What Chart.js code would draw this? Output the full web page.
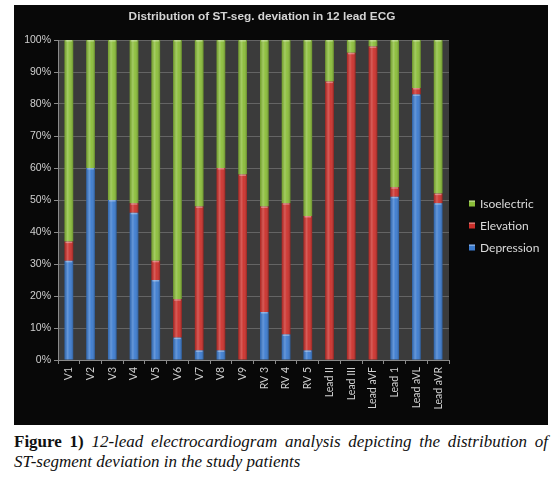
<!DOCTYPE html>
<html>
<head>
<meta charset="utf-8">
<script src="https://cdn.jsdelivr.net/npm/chart.js@4"></script>
<style>
  body { margin: 0; background: #fff; width: 560px; height: 483px; position: relative; overflow: hidden; }
  #box { position: absolute; left: 14px; top: 5px; width: 534px; height: 420px; background: #080808; }
  #caption { position: absolute; left: 14px; top: 432px; width: 534px; font-family: "Liberation Serif", "DejaVu Serif", serif; font-size: 17px; line-height: 20px; color: #111; }
  #caption .l1 { text-align: justify; text-align-last: justify; white-space: nowrap; }
  #caption b { font-style: normal; }
  #caption i { font-style: italic; }
</style>
</head>
<body>
<div id="box"><canvas id="chart" width="534" height="420"></canvas></div>
<div id="caption">
  <div class="l1"><b>Figure 1)</b> <i>12-lead electrocardiogram analysis depicting the distribution of</i></div>
  <div><i>ST-segment deviation in the study patients</i></div>
</div>
<script>
// leads on the x axis
const leads = ['V1', 'V2', 'V3', 'V4', 'V5', 'V6', 'V7', 'V8', 'V9', 'RV 3', 'RV 4', 'RV 5',
  'Lead II', 'Lead III', 'Lead aVF', 'Lead 1', 'Lead aVL', 'Lead aVR'];

// percent of patients per lead
const depression = [31, 60, 50, 46, 25, 7, 3, 3, 0, 15, 8, 3, 0, 0, 0, 51, 83, 49];
const elevation  = [6, 0, 0, 3, 6, 12, 45, 57, 58, 33, 41, 42, 87, 96, 98, 3, 2, 3];
const isoelectric = [63, 40, 50, 51, 69, 81, 52, 40, 42, 52, 51, 55, 13, 4, 2, 46, 15, 48];

const yTicks = [0, 10, 20, 30, 40, 50, 60, 70, 80, 90, 100];

const chartTitle = 'Distribution of ST-seg. deviation in 12 lead ECG';

// plot background, title, legend and the shiny look of the bars
const decor = {
  id: 'decor',
  beforeDraw(chart) {
    const {ctx, chartArea: a} = chart;
    ctx.save();
    ctx.fillStyle = '#3b3b3b';
    ctx.fillRect(a.left, a.top, a.right - a.left, a.bottom - a.top);
    ctx.restore();
  },
  afterDatasetsDraw(chart) {
    const ctx = chart.ctx;
    ctx.save();
    chart.data.datasets.forEach((ds, i) => {
      const meta = chart.getDatasetMeta(i);
      meta.data.forEach(bar => {
        const {x, y, base, width} = bar.getProps(['x', 'y', 'base', 'width'], true);
        const h = base - y;
        if (h <= 0.5) return;
        const l = x - width / 2;
        const g = ctx.createLinearGradient(l, 0, l + width, 0);
        g.addColorStop(0, 'rgba(0,0,0,0.15)');
        g.addColorStop(0.35, 'rgba(255,255,255,0.22)');
        g.addColorStop(0.6, 'rgba(255,255,255,0.05)');
        g.addColorStop(1, 'rgba(0,0,0,0.25)');
        ctx.fillStyle = g;
        ctx.fillRect(l, y, width, h);
        ctx.fillStyle = 'rgba(255,255,255,0.35)';
        ctx.fillRect(l + 1, y, width - 2, Math.min(1.5, h));
      });
    });
    ctx.restore();
  },
  afterDraw(chart) {
    const ctx = chart.ctx;
    ctx.save();
    ctx.fillStyle = '#d4d4d4';
    ctx.font = 'bold 11.8px "Liberation Sans", Arial, sans-serif';
    ctx.textAlign = 'center';
    ctx.textBaseline = 'middle';
    ctx.fillText(chartTitle, 248, 12);

    // legend, top item is the last dataset
    const items = chart.data.datasets.slice().reverse();
    ctx.font = '12px Lato, "Open Sans", sans-serif';
    ctx.textAlign = 'left';
    items.forEach((ds, k) => {
      const cy = 198.5 + k * 22;
      ctx.fillStyle = ds.backgroundColor;
      ctx.fillRect(455, cy - 3, 6, 6);
      ctx.fillStyle = 'rgba(255,255,255,0.35)';
      ctx.fillRect(455, cy - 3, 6, 1.5);
      ctx.fillStyle = '#dadada';
      ctx.fillText(ds.label, 466, cy + 0.5);
    });
    ctx.restore();
  }
};

new Chart(document.getElementById('chart'), {
  type: 'bar',
  data: {
    labels: leads,
    datasets: [
      { label: 'Depression', data: depression, backgroundColor: '#3b7bcf' },
      { label: 'Elevation', data: elevation, backgroundColor: '#cc2f2a' },
      { label: 'Isoelectric', data: isoelectric, backgroundColor: '#8abd38' }
    ]
  },
  options: {
    responsive: false,
    animation: false,
    barPercentage: 0.4,
    categoryPercentage: 1,
    layout: { padding: { top: 35, right: 99, left: 0, bottom: 0 } },
    plugins: {
      legend: { display: false },
      title: { display: false },
      tooltip: { enabled: false }
    },
    scales: {
      x: {
        stacked: true,
        afterFit(s) { s.height = 65; },
        border: { color: '#8a8a8a' },
        grid: { offset: true, drawOnChartArea: false, tickLength: 4, color: '#8a8a8a' },
        ticks: {
          minRotation: 90, maxRotation: 90, padding: 3, autoSkip: false,
          color: '#d0d0d0', font: { family: 'Lato, "Open Sans", sans-serif', size: 10.5 }
        }
      },
      y: {
        stacked: true,
        min: 0, max: 100,
        afterFit(s) { s.width = 44; },
        afterBuildTicks(s) { s.ticks = yTicks.map(v => ({ value: v })); },
        border: { color: '#8a8a8a' },
        grid: { color: '#646464', tickLength: 4, tickColor: '#8a8a8a' },
        ticks: {
          padding: 3, color: '#cfcfcf',
          font: { family: '"Liberation Sans", Arial, sans-serif', size: 10.5 },
          callback: v => v + '%'
        }
      }
    }
  },
  plugins: [decor]
});
</script>
</body>
</html>
